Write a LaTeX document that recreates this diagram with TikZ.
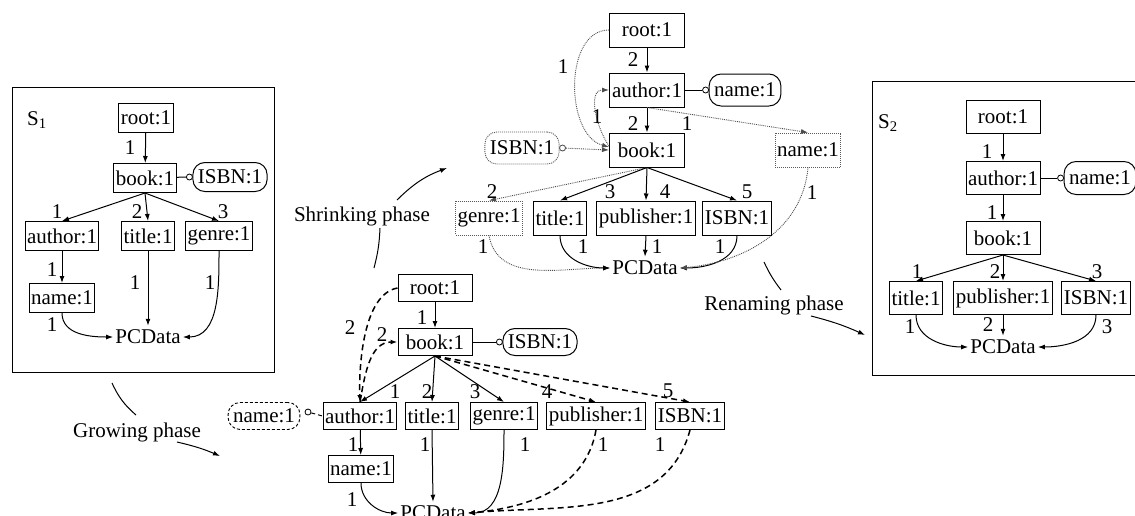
\documentclass[tikz,border=0pt]{standalone}
\usepackage{fontspec}
\setmainfont{Liberation Serif}
\usetikzlibrary{arrows.meta}
\begin{document}
\begin{tikzpicture}[x=1pt,y=1pt,
  every node/.style={font=\fontsize{21}{25}\selectfont},
  box/.style={draw,line width=1pt,rectangle,inner xsep=2pt,inner ysep=0pt,minimum height=29pt},
  wide/.style={minimum width=74pt},
  dotbox/.style={box,draw=black!65,densely dotted,line width=0.9pt},
  pill/.style={draw,line width=1pt,rounded corners=12pt,inner xsep=5pt,inner ysep=0pt,minimum height=29pt},
  dashpill/.style={pill,dash pattern=on 3pt off 2pt,line width=0.9pt},
  dotpill/.style={pill,draw=black!65,densely dotted,line width=0.9pt},
  ring/.style={circle,draw,line width=0.8pt,inner sep=0pt,minimum size=6pt,fill=white},
  pcdata/.style={inner xsep=2pt,inner ysep=4pt},
  num/.style={inner sep=0pt},
  arr/.style={-{Latex[length=7pt,width=5pt]},line width=1pt},
  darr/.style={-{Latex[length=7pt,width=5pt]},line width=1.5pt,dash pattern=on 6pt off 4pt},
  tarr/.style={-{Latex[length=7pt,width=5pt]},line width=0.9pt,densely dotted,draw=black!70},
  link/.style={line width=1pt},
  phase/.style={line width=1pt},
  phasearr/.style={-{Latex[length=7pt,width=5pt]},line width=1pt}
]
\useasboundingbox (0,0) rectangle (1135,-515);

% ---------- schema S1 ----------
\draw[line width=1pt] (12,-87) rectangle (274,-372);
\node (l-s) at (37,-120) {S\textsubscript{1}};
\begin{scope}[box/.append style={minimum height=29pt}]
\node[box] (l-root) at (146,-118) {root:1};
\node[box] (l-book) at (145,-178) {book:1};
\node[pill] (l-isbn) at (230,-177) {ISBN:1};
\node[ring] (l-ring) at ([xshift=-3pt]l-isbn.west) {};
\node[box] (l-author) at (62,-236) {author:1};
\node[box] (l-title) at (148,-236) {title:1};
\node[box] (l-genre) at (219,-236) {genre:1};
\node[box] (l-name) at (62,-298) {name:1};
\node[pcdata] (l-pc) at (148,-337) {PCData};
\end{scope}
\draw[link] (l-book) -- (l-ring);
\draw[arr] (l-root) -- (l-book);
\draw[arr] (l-book.south) -- (l-author.north);
\draw[arr] (l-book.south) -- (l-title.north);
\draw[arr] (l-book.south) -- (l-genre.north);
\draw[arr] (l-author) -- (l-name);
\draw[arr] (l-title.south) -- (l-pc.north);
\draw[arr] (l-name.south) to[out=-90,in=180] (l-pc.west);
\draw[arr] (l-genre.south) to[out=-90,in=0] (l-pc.east);
\node[num] at (130,-148) {1};
\node[num] at (57,-212) {1};
\node[num] at (137,-212) {2};
\node[num] at (223,-212) {3};
\node[num] at (52,-270) {1};
\node[num] at (135,-283) {1};
\node[num] at (210,-283) {1};
\node[num] at (52,-325) {1};

% ---------- grown schema ----------
\begin{scope}[box/.append style={minimum height=27pt},pill/.append style={minimum height=27pt}]
\node[box,wide] (g-root) at (435,-288) {root:1};
\node[box,wide] (g-book) at (435,-342) {book:1};
\node[pill] (g-isbnx) at (540,-342) {ISBN:1};
\node[ring] (g-ring) at ([xshift=-3pt]g-isbnx.west) {};
\node[box] (g-author) at (360,-416) {author:1};
\node[box] (g-title) at (432,-416) {title:1};
\node[box] (g-genre) at (504,-416) {genre:1};
\node[box] (g-pub) at (596,-416) {publisher:1};
\node[box] (g-isbn) at (690,-416) {ISBN:1};
\node[box] (g-name) at (361,-469) {name:1};
\node[dashpill] (g-namex) at (264,-416) {name:1};
\node[ring] (g-ring2) at (308,-412) {};
\node[pcdata] (g-pc) at (433,-513) {PCData};
\end{scope}
\draw[link] (g-book) -- (g-ring);
\draw[link,dash pattern=on 4pt off 3pt] (g-ring2) -- (g-author.west);
\draw[arr] (g-root) -- (g-book);
\draw[darr] (g-root.west) to[out=190,in=92,looseness=0.75] (g-author.north);
\draw[darr] (g-author.north) to[out=80,in=180] (g-book.west);
\draw[arr] (g-book.south) -- (g-author.north);
\draw[arr] (g-book.south) -- (g-title.north);
\draw[arr] (g-book.south) -- (g-genre.north);
\draw[darr] (g-book.south) -- (g-pub.north);
\draw[darr] (g-book.south) -- (g-isbn.north);
\draw[arr] (g-author) -- (g-name);
\draw[arr] (g-title.south) -- (g-pc.north);
\draw[arr] (g-name.south) to[out=-90,in=180] (g-pc.west);
\draw[arr] (g-genre.south) to[out=-90,in=0] (g-pc.east);
\draw[darr] (g-pub.south) to[out=-100,in=5] (g-pc.east);
\draw[darr] (g-isbn.south) to[out=-105,in=5] (g-pc.east);
\node[num] at (350,-328) {2};
\node[num] at (422,-318) {1};
\node[num] at (382,-335) {2};
\node[num] at (395,-392) {1};
\node[num] at (427,-392) {2};
\node[num] at (475,-392) {3};
\node[num] at (547,-392) {4};
\node[num] at (668,-391) {5};
\node[num] at (353,-445) {1};
\node[num] at (425,-445) {1};
\node[num] at (525,-445) {1};
\node[num] at (603,-445) {1};
\node[num] at (660,-445) {1};
\node[num] at (352,-500) {1};

% ---------- shrunk schema ----------
\begin{scope}[box/.append style={minimum height=34pt},pill/.append style={minimum height=32pt},wide/.append style={minimum width=75pt}]
\node[box,wide] (t-root) at (647,-30) {root:1};
\node[box,wide] (t-author) at (647,-90) {author:1};
\node[pill] (t-namex) at (745,-90) {name:1};
\node[ring] (t-ring) at ([xshift=-3pt]t-namex.west) {};
\node[box,wide] (t-book) at (647,-150) {book:1};
\node[dotpill] (t-isbnx) at (522,-148) {ISBN:1};
\node[ring,draw=black!70] (t-ring2) at ([xshift=3pt]t-isbnx.east) {};
\node[dotbox] (t-name) at (808,-150) {name:1};
\node[dotbox] (t-genre) at (489,-218) {genre:1};
\node[box] (t-title) at (560,-218) {title:1};
\node[box] (t-pub) at (646,-218) {publisher:1};
\node[box] (t-isbn) at (737,-218) {ISBN:1};
\node[pcdata] (t-pc) at (645,-268) {PCData};
\end{scope}
\draw[link] (t-author) -- (t-ring);
\draw[arr] (t-root) -- (t-author);
\draw[arr] (t-author) -- (t-book);
\draw[tarr] (t-ring2) -- (t-book.west);
\draw[tarr] (t-root.west) to[out=180,in=165] ([yshift=3pt]t-book.west);
\draw[tarr] ([yshift=4pt]t-book.west) to[out=125,in=180] (t-author.west);
\draw[tarr] (t-author.south) -- (t-name.north);
\draw[tarr] (t-book.south) -- (t-genre.north);
\draw[arr] (t-book.south) -- (t-title.north);
\draw[arr] (t-book.south) -- (t-pub.north);
\draw[arr] (t-book.south) -- (t-isbn.north);
\draw[tarr] (t-genre.south) to[out=-80,in=180] (t-pc.west);
\draw[arr] (t-title.south) to[out=-90,in=180] (t-pc.west);
\draw[arr] (t-pub.south) -- (t-pc.north);
\draw[arr] (t-isbn.south) to[out=-90,in=0] (t-pc.east);
\draw[tarr] (t-name.south) to[out=-95,in=5] (t-pc.east);
\node[num] at (633,-60) {2};
\node[num] at (563,-67) {1};
\node[num] at (597,-117) {1};
\node[num] at (633,-124) {2};
\node[num] at (687,-124) {1};
\node[num] at (492,-192) {2};
\node[num] at (610,-192) {3};
\node[num] at (665,-192) {4};
\node[num] at (747,-192) {5};
\node[num] at (812,-193) {1};
\node[num] at (483,-247) {1};
\node[num] at (583,-247) {1};
\node[num] at (657,-247) {1};
\node[num] at (720,-247) {1};

% ---------- schema S2 ----------
\draw[line width=1pt] (872,-81) rectangle (1140,-375);
\node (r-s) at (888,-123) {S\textsubscript{2}};
\begin{scope}[box/.append style={minimum height=33pt},pill/.append style={minimum height=33pt}]
\node[box,wide] (r-root) at (1003,-117) {root:1};
\node[box,wide] (r-author) at (1003,-178) {author:1};
\node[pill] (r-namex) at (1100,-178) {name:1};
\node[ring] (r-ring) at ([xshift=-3pt]r-namex.west) {};
\node[box,wide] (r-book) at (1003,-238) {book:1};
\node[box] (r-title) at (916,-298) {title:1};
\node[box] (r-pub) at (1003,-298) {publisher:1};
\node[box] (r-isbn) at (1096,-298) {ISBN:1};
\node[pcdata] (r-pc) at (1003,-347) {PCData};
\end{scope}
\draw[link] (r-author) -- (r-ring);
\draw[arr] (r-root) -- (r-author);
\draw[arr] (r-author) -- (r-book);
\draw[arr] (r-book.south) -- (r-title.north);
\draw[arr] (r-book.south) -- (r-pub.north);
\draw[arr] (r-book.south) -- (r-isbn.north);
\draw[arr] (r-title.south) to[out=-90,in=180] (r-pc.west);
\draw[arr] (r-pub.south) -- (r-pc.north);
\draw[arr] (r-isbn.south) to[out=-90,in=0] (r-pc.east);
\node[num] at (987,-152) {1};
\node[num] at (992,-213) {1};
\node[num] at (917,-272) {1};
\node[num] at (995,-272) {2};
\node[num] at (1097,-272) {3};
\node[num] at (910,-327) {1};
\node[num] at (988,-325) {2};
\node[num] at (1107,-327) {3};

% ---------- phases ----------
\node (grow) at (137,-432) {Growing phase};
\node (shrink) at (362,-216) {Shrinking phase};
\node (rename) at (774,-305) {Renaming phase};
\coordinate (grow-a) at (112,-383);
\coordinate (grow-b) at (136,-415);
\coordinate (grow-c) at (177,-442);
\coordinate (grow-d) at (220,-456);
\coordinate (shrink-a) at (374,-268);
\coordinate (shrink-b) at (380,-228);
\coordinate (shrink-c) at (397,-200);
\coordinate (shrink-d) at (447,-168);
\coordinate (rename-a) at (764,-262);
\coordinate (rename-b) at (781,-290);
\coordinate (rename-c) at (811,-316);
\coordinate (rename-d) at (865,-335);
\draw[phase] (grow-a) to[bend right=12] (grow-b);
\draw[phasearr] (grow-c) to[bend left=5] (grow-d);
\draw[phase] (shrink-a) to[bend right=6] (shrink-b);
\draw[phasearr] (shrink-c) to[bend left=12] (shrink-d);
\draw[phase] (rename-a) to[bend right=6] (rename-b);
\draw[phasearr] (rename-c) to[bend left=5] (rename-d);
\end{tikzpicture}
\end{document}
